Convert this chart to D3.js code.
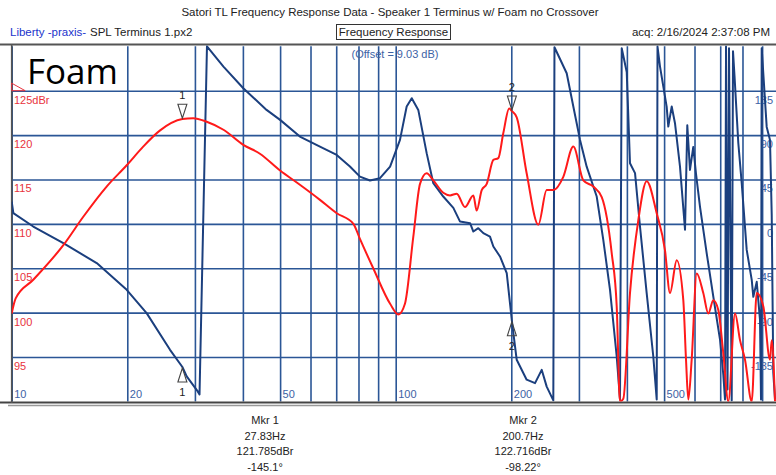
<!DOCTYPE html>
<html>
<head>
<meta charset="utf-8">
<script src="https://cdn.jsdelivr.net/npm/d3@7"></script>
<style>
body { margin: 0; background: #fff; }
svg { display: block; font-family: "Liberation Sans", Arial, sans-serif; }
</style>
</head>
<body>
<svg></svg>
<script>
var width = 776;
var height = 475;
var plotLeft = 11.7;
var plotRight = 776;
var plotTop = 46.3;
var plotBottom = 401.4;

// red trace: SPL in dBr
var splFreq = [10, 10.24, 11.38, 13.63, 15.36, 17.67, 19.93, 22.0, 24.3, 27.83, 29.7, 32.2, 35.6, 40.1, 44.3, 50.0, 56.3, 63.5, 70.2, 77.6,
	80.7, 87.4, 96.7, 101.6, 105.7, 111.1, 115.7, 120.4, 125.3, 133.0, 138.5, 144.2, 151.5, 159.3, 162.5, 167.5, 172.6, 179.6, 185.0, 190.6,
	197.5, 200.7, 206.6, 219.3, 235.2, 247.3, 257.3, 273.2, 290.1, 308.0, 327.0, 344.0, 365.2, 376.3, 383.8, 391.5, 407.5, 428.3, 450.4, 478.3,
	502.7, 518.0, 539.3, 561.0, 570.2, 578.1, 589.9, 608.0, 632.4, 651.8, 671.6, 692.0, 713.1, 734.8, 765.0, 788.2, 812.2, 845.6, 871.3, 906.5,
	943.5, 953.3, 972.3];
var splDb = [99.9, 101.6, 103.7, 107.6, 110.8, 114.2, 116.6, 118.7, 120.5, 121.8, 121.9, 121.5, 120.6, 118.9, 117.9, 116.0, 114.4, 112.7, 111.2, 110.0,
	108.3, 105.0, 101.0, 99.8, 101.0, 108.5, 114.5, 115.7, 114.9, 113.5, 113.2, 113.4, 111.9, 113.2, 111.5, 113.8, 114.5, 117.2, 117.4, 120.2,
	123.0, 122.7, 122.0, 115.7, 109.9, 113.8, 113.8, 115.3, 118.7, 114.9, 114.2, 113.0, 106.7, 100.7, 90.0, 90.3, 102.2, 110.4, 114.8, 111.2,
	107.0, 102.2, 105.9, 101.4, 94.7, 90.2, 94.7, 104.4, 102.2, 99.9, 101.4, 100.3, 95.4, 90.0, 99.9, 96.9, 94.7, 90.0, 102.2, 100.7,
	94.7, 96.9, 90.0];

// blue trace: phase in degrees, wrapped at +/-180
var phaseFreq = [10, 10.1, 11.38, 13.63, 16.65, 19.93, 22.46, 25.84, 27.83, 28.56, 30.51, 30.84, 32.25, 35.6, 40.1, 46.1, 50.0, 56.3, 63.5, 70.2,
	76.0, 80.7, 85.7, 91.0, 96.7, 102.6, 106.8, 110.1, 114.5, 120.4, 125.3, 133.0, 141.3, 147.1, 156.2, 159.3, 164.1, 169.1, 176.0, 179.6,
	186.9, 194.6, 200.7, 202.7, 206.6, 219.3, 230.6, 240.0, 247.3, 257.3, 259.1, 278.8, 290.1, 302.0, 314.3, 333.8, 347.2, 361.5, 376.3, 383.8,
	387.8, 399.6, 407.5, 420.0, 432.7, 450.4, 468.6, 478.3, 480.6, 487.9, 507.7, 512.7, 523.3, 533.7, 550.0, 566.8, 574.6, 583.9, 595.6, 605.3,
	620.0, 645.4, 671.6, 699.3, 713.1, 720.4, 724.8, 731.3, 737.9, 749.9, 755.8, 762.6, 780.2, 796.2, 820.5, 845.6, 853.7, 871.3, 888.6, 894.0,
	897.7, 925.0, 943.5, 953.3, 962.3, 972.3];
var phaseDeg = [22.6, 10.8, -2.7, -19.6, -39.8, -66.9, -90.5, -127.7, -145.1, -154.7, -169.9, -173, 180, 159.4, 137.5, 115.5, 105.4, 88.5, 78.3, 69.9,
	58.1, 47.9, 43.9, 46.3, 58.1, 85.1, 118.9, 127.4, 115.5, 71.7, 41.2, 27.7, 16.2, 2.3, 0.7, -7.8, -4.4, -9.4, -12.9, -23,
	-33.1, -50, -98.22, -112, -137.8, -158, -161.5, -148, -165, -179, 179, 152.7, 118.9, 85.1, 58, 27.7, -16.2, -66.9, -134.5, -178,
	178, 154, 61.5, 51.4, -2.7, -70.2, -134.5, -178, 179.7, 159.4, 118.9, 98.6, 118.9, 102, 58, -6, 100, 54.7, 78, 51,
	17.5, -29.7, -73.7, -117.6, -153, -178, 179.7, -168, 178, -179, 175, 150, 82, 41.5, -26.4, -56.8, -74, -58.8, -97.3, -178,
	178, 98.3, 85.1, 9.1, -151, -178];

var gridFreqs = [10, 20, 30, 40, 50, 60, 70, 80, 90, 100, 200, 300, 400, 500, 600, 700, 800, 900];
var freqLabels = [10, 20, 50, 100, 200, 500];
var dbTicks = [95, 100, 105, 110, 115, 120, 125];
var phaseTicks = [-135, -90, -45, 0, 45, 90, 135];

var markerNames = ["Mkr 1", "Mkr 2"];
var markerFreq = [27.83, 200.7];
var markerDb = [121.785, 122.716];
var markerPhase = [-145.1, -98.22];

var gridColor = "#2b5696";
var redColor = "#ff1a1a";
var blueColor = "#1b3f7e";

var xScale = d3.scaleLog()
				.domain([10, 1000])
				.range([plotLeft, plotLeft + 768]);

var yScale = d3.scaleLinear()
				.domain([90, 130])
				.range([plotBottom, plotTop]);

var phaseScale = d3.scaleLinear()
				.domain([-180, 180])
				.range([plotBottom, plotTop]);

var svg = d3.select('svg')
				.attr("width", width)
				.attr("height", height);

svg.append("clipPath").attr("id", "plotClip")
	.append("rect")
	.attr("x", plotLeft)
	.attr("y", plotTop - 1)
	.attr("width", plotRight - plotLeft)
	.attr("height", plotBottom - plotTop + 1);

//header
svg.append("text")
	.attr("x", 390).attr("y", 16)
	.attr("text-anchor", "middle")
	.attr("font-size", 11.5)
	.attr("fill", "#222")
	.text("Satori TL Frequency Response Data - Speaker 1 Terminus w/ Foam no Crossover");

svg.append("text")
	.attr("x", 10).attr("y", 36)
	.attr("font-size", 11.5)
	.attr("fill", "#2233cc")
	.text("Liberty -praxis-");

svg.append("text")
	.attr("x", 90).attr("y", 36)
	.attr("font-size", 11.5)
	.attr("fill", "#222")
	.text("SPL Terminus 1.px2");

svg.append("rect")
	.attr("x", 336.5).attr("y", 24.5)
	.attr("width", 114).attr("height", 15)
	.attr("fill", "none")
	.attr("stroke", "#333");

svg.append("text")
	.attr("x", 393.5).attr("y", 36)
	.attr("text-anchor", "middle")
	.attr("font-size", 11.5)
	.attr("fill", "#222")
	.text("Frequency Response");

svg.append("text")
	.attr("x", 770).attr("y", 36)
	.attr("text-anchor", "end")
	.attr("font-size", 11.5)
	.attr("fill", "#222")
	.text("acq: 2/16/2024 2:37:08 PM");

//grid
svg.append("g")
	.attr("transform", "translate(0," + plotTop + ")")
	.call(d3.axisBottom(xScale).tickValues(gridFreqs).tickSize(plotBottom - plotTop).tickFormat(""))
	.call(g => g.select(".domain").remove())
	.selectAll("line")
	.attr("stroke", gridColor)
	.attr("stroke-width", 1.6);

svg.append("g")
	.attr("transform", "translate(" + plotLeft + ",0)")
	.call(d3.axisRight(yScale).tickValues(dbTicks).tickSize(plotRight - plotLeft).tickFormat(""))
	.call(g => g.select(".domain").remove())
	.selectAll("line")
	.attr("stroke", gridColor)
	.attr("stroke-width", 1.6);

//frame
svg.append("line")
	.attr("x1", 0).attr("x2", width)
	.attr("y1", 44.5).attr("y2", 44.5)
	.attr("stroke", "#555").attr("stroke-width", 2);
svg.append("line")
	.attr("x1", 0).attr("x2", width)
	.attr("y1", 402.5).attr("y2", 402.5)
	.attr("stroke", "#444").attr("stroke-width", 2);
svg.append("line")
	.attr("x1", 8).attr("x2", width)
	.attr("y1", 405.5).attr("y2", 405.5)
	.attr("stroke", "#999").attr("stroke-width", 1.5);
svg.append("line")
	.attr("x1", plotLeft).attr("x2", plotLeft)
	.attr("y1", 44).attr("y2", 403)
	.attr("stroke", "#555").attr("stroke-width", 1.6);

//axis labels
svg.append("g")
	.selectAll("text")
	.data(dbTicks)
	.enter().append("text")
	.attr("x", 14)
	.attr("y", d => yScale(d) + 13)
	.attr("font-size", 11)
	.attr("fill", "#e8323c")
	.text(d => d == 125 ? "125dBr" : d);

svg.append("polygon")
	.attr("points", [[plotLeft, yScale(125) - 7.5], [plotLeft + 13.5, yScale(125)], [plotLeft, yScale(125)]].join(" "))
	.attr("fill", "none")
	.attr("stroke", "#e8323c")
	.attr("stroke-width", 1);

svg.append("g")
	.selectAll("text")
	.data(phaseTicks)
	.enter().append("text")
	.attr("x", 773)
	.attr("y", d => phaseScale(d) + 13)
	.attr("text-anchor", "end")
	.attr("font-size", 11)
	.attr("fill", "#3d62a5")
	.text(d => d);

svg.append("g")
	.selectAll("text")
	.data(freqLabels)
	.enter().append("text")
	.attr("x", d => xScale(d) + 2.5)
	.attr("y", 398)
	.attr("font-size", 11)
	.attr("fill", "#3d62a5")
	.text(d => d);

svg.append("text")
	.attr("x", 395).attr("y", 58)
	.attr("text-anchor", "middle")
	.attr("font-size", 11)
	.attr("fill", "#3d62a5")
	.text("(Offset = 9.03 dB)");

//traces
var splLine = d3.line()
				.x(d => xScale(d[0]))
				.y(d => yScale(d[1]))
				.curve(d3.curveMonotoneX);

var phaseLine = d3.line()
				.x(d => xScale(d[0]))
				.y(d => phaseScale(d[1]));

var traces = svg.append("g").attr("clip-path", "url(#plotClip)");

traces.append("path")
	.datum(d3.zip(phaseFreq, phaseDeg))
	.attr("d", phaseLine)
	.attr("fill", "none")
	.attr("stroke", blueColor)
	.attr("stroke-width", 2)
	.attr("stroke-linejoin", "round");

traces.append("path")
	.datum(d3.zip(splFreq, splDb))
	.attr("d", splLine)
	.attr("fill", "none")
	.attr("stroke", redColor)
	.attr("stroke-width", 2)
	.attr("stroke-linejoin", "round");

//markers
var markers = svg.append("g")
				.selectAll("g")
				.data(d3.range(markerFreq.length))
				.enter()
				.append("g");

markers.append("path")
	.attr("d", i => {
		var mx = xScale(markerFreq[i]), my = yScale(markerDb[i]);
		return "M" + mx + "," + (my - 1) + "L" + (mx - 4.5) + "," + (my - 15) + "L" + (mx + 4.5) + "," + (my - 15) + "Z";
	})
	.attr("fill", "none")
	.attr("stroke", "#444")
	.attr("stroke-width", 1.1);

markers.append("text")
	.attr("x", i => xScale(markerFreq[i]))
	.attr("y", i => yScale(markerDb[i]) - 20)
	.attr("text-anchor", "middle")
	.attr("font-size", 11)
	.attr("fill", "#222")
	.text(i => i + 1);

markers.append("path")
	.attr("d", i => {
		var mx = xScale(markerFreq[i]), my = phaseScale(markerPhase[i]);
		return "M" + mx + "," + (my + 1) + "L" + (mx - 4.5) + "," + (my + 15) + "L" + (mx + 4.5) + "," + (my + 15) + "Z";
	})
	.attr("fill", "none")
	.attr("stroke", "#444")
	.attr("stroke-width", 1.1);

markers.append("text")
	.attr("x", i => xScale(markerFreq[i]))
	.attr("y", i => phaseScale(markerPhase[i]) + 29)
	.attr("text-anchor", "middle")
	.attr("font-size", 11)
	.attr("fill", "#222")
	.text(i => i + 1);

//marker readouts
var readout = svg.append("g")
				.selectAll("text")
				.data(d3.range(markerFreq.length))
				.enter()
				.append("text")
				.attr("x", i => i == 0 ? 265 : 523)
				.attr("y", 424)
				.attr("text-anchor", "middle")
				.attr("font-size", 11)
				.attr("fill", "#222");

readout.selectAll("tspan")
	.data(i => [markerNames[i], markerFreq[i] + "Hz", markerDb[i] + "dBr", markerPhase[i] + "°"])
	.enter().append("tspan")
	.attr("x", function(){ return d3.select(this.parentNode).attr("x"); })
	.attr("dy", (d, j) => j == 0 ? 0 : 15.5)
	.text(d => d);

svg.append("text")
	.attr("x", 27).attr("y", 84)
	.attr("font-family", "'Open Sans', sans-serif")
	.attr("font-size", 35)
	.attr("fill", "#000")
	.text("Foam");
</script>
</body>
</html>
